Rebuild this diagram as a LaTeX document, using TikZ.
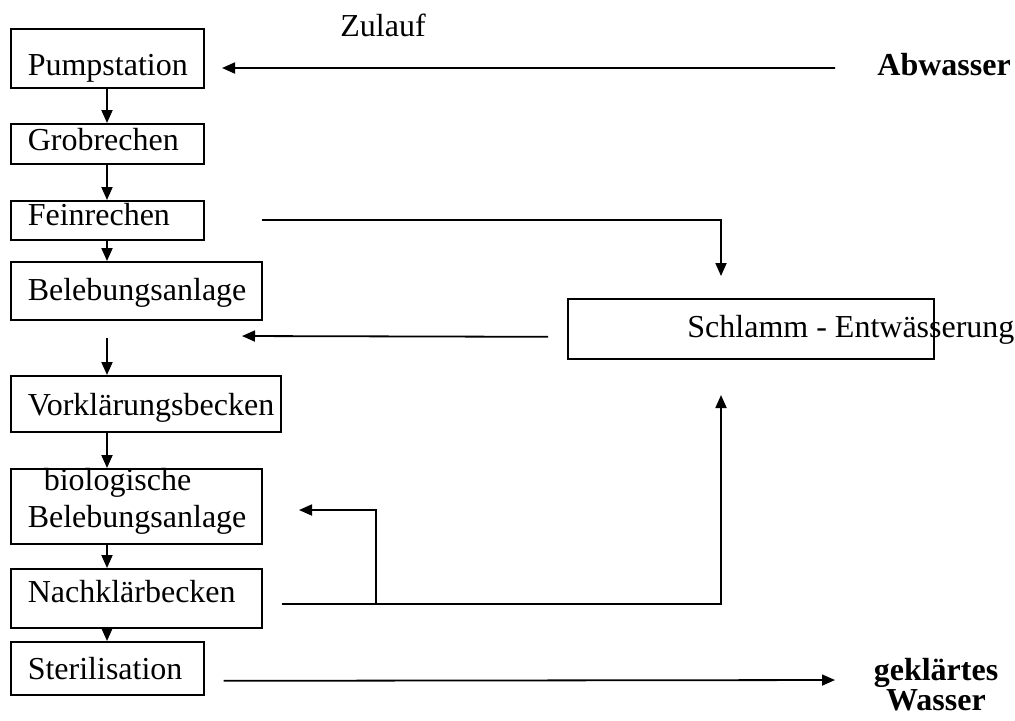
\documentclass[tikz,border=0pt]{standalone}
\usepackage{fontspec}
\setmainfont{Liberation Serif}
\usetikzlibrary{arrows.meta}
\hyphenpenalty=10000 \exhyphenpenalty=10000
\begin{document}
\begin{tikzpicture}[x=0.5pt,y=-0.5pt,
  box/.style={draw,line width=0.8pt,anchor=north west,inner xsep=8.5pt,inner ysep=0pt,
    align=left,font=\fontsize{16}{18.5}\selectfont,text depth=3pt},
  arr/.style={line width=0.9pt,-{Triangle[length=6.5pt,width=5.5pt]}},
  ln/.style={line width=0.9pt},
  lbl/.style={font=\fontsize{16}{18.5}\selectfont,inner sep=0pt},
  blbl/.style={font=\fontsize{16}{13.5}\selectfont\bfseries,inner sep=0pt}]
\useasboundingbox (0,0) rectangle (1015,720);
% boxes
\node[box,text width=79.5pt,minimum height=29.5pt,text height=20.5pt] (pump) at (10,28) {Pumpstation};
\node[box,text width=79.5pt,minimum height=20pt,text height=10pt] (grob) at (10,123) {Grobrechen};
\node[box,text width=79.5pt,minimum height=19.5pt,text height=8.5pt] (fein) at (10,200) {Feinrechen};
\node[box,text width=108.5pt,minimum height=29pt,text height=13pt] (bel) at (10,261) {Belebungsanlage};
\node[box,text width=118pt,minimum height=28pt,text height=15pt] (vor) at (10,375) {Vorklärungsbecken};
\node[box,text width=108.5pt,minimum height=37.5pt,text height=10pt,text depth=25.5pt] (bio) at (10,468) {\hspace*{8pt}biologische\\Belebungsanlage};
\node[box,text width=108.5pt,minimum height=29.5pt,text height=7.5pt] (nach) at (10,568) {Nachklärbecken};
\node[box,text width=79.5pt,minimum height=26.5pt,text height=14.5pt] (ster) at (10,641) {Sterilisation};
\node[draw,line width=0.8pt,anchor=north west,minimum width=183pt,minimum height=30pt,inner sep=0pt] (schl) at (567,298) {};
\node[lbl,anchor=base west] (schlt) at (687,337) {Schlamm - Entwässerung};
% labels
\node[lbl,anchor=base west] (zul) at (340,36) {Zulauf};
\node[lbl,anchor=base west,font=\fontsize{16}{18.5}\selectfont\bfseries] (abw) at (877,75) {Abwasser};
\node[blbl,anchor=north,align=center] (gek) at (936,658) {geklärtes\\Wasser};
% coordinates
\coordinate (c0) at (222,68);
\coordinate (c1) at (721,276);
\coordinate (c2) at (242,336);
\coordinate (c3) at (721,395);
\coordinate (c4) at (299,510);
\coordinate (c5) at (835,680);
\coordinate (j) at (376,603);
% main chain
\draw[arr] ([xshift=48.5pt]pump.south west) -- ([xshift=48.5pt]grob.north west);
\draw[arr] ([xshift=48.5pt]grob.south west) -- ([xshift=48.5pt]fein.north west);
\draw[arr] ([xshift=48.5pt]fein.south west) -- ([xshift=48.5pt]bel.north west);
\draw[arr] ([xshift=48.5pt,yshift=-8.5pt]bel.south west) -- ([xshift=48.5pt]vor.north west);
\draw[arr] ([xshift=48.5pt]vor.south west) -- ([xshift=48.5pt]bio.north west);
\draw[arr] ([xshift=48.5pt]bio.south west) -- ([xshift=48.5pt]nach.north west);
\draw[arr] ([xshift=48.5pt]nach.south west) -- ([xshift=48.5pt]ster.north west);
% other connectors
\draw[arr] ([xshift=-21pt,yshift=-2pt]abw.west) -- (c0);
\draw[arr] ([xshift=28.5pt]fein.east) -| (c1);
\draw[arr] ([xshift=-9.5pt,yshift=-4pt]schl.west) -- (c2);
\draw[arr] ([xshift=9.5pt,yshift=-2.75pt]nach.east) -| (c3);
\draw[arr] (j) |- (c4);
\draw[arr] ([xshift=9.5pt,yshift=-6.25pt]ster.east) -- (c5);
\end{tikzpicture}
\end{document}
